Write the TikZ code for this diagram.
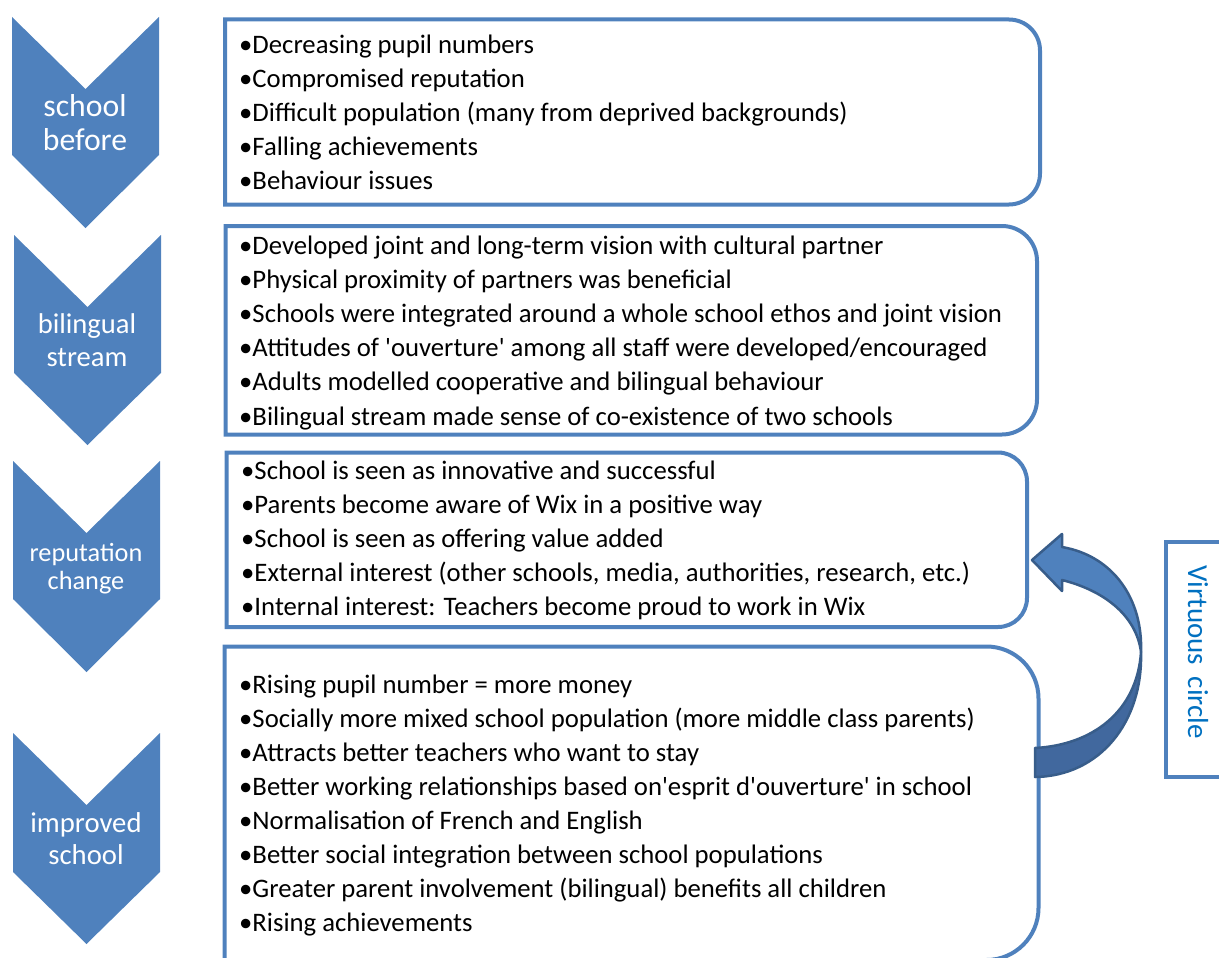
\documentclass[tikz,border=0pt]{standalone}
\usepackage{fontspec}
\setmainfont{Carlito}
\definecolor{accent}{HTML}{4F81BD}
\definecolor{arrowdark}{HTML}{41689E}
\definecolor{arrowline}{HTML}{385D8A}
\definecolor{vtext}{HTML}{0070C0}
\newcommand\rsbox[5]{%
  \draw[bframe] (#1,#2) -- ({#3-#5},#2) .. controls ({#3-0.448*#5},#2) and (#3,{#2+0.448*#5}) .. (#3,{#2+#5})
    -- (#3,{#4-#5}) .. controls (#3,{#4-0.448*#5}) and ({#3-0.448*#5},#4) .. ({#3-#5},#4) -- (#1,#4) -- cycle;}
\begin{document}
\begin{tikzpicture}[x=1pt,y=-1pt,
  chev/.style={fill=accent,draw=none},
  clabel/.style={text=white,anchor=base,inner sep=0pt},
  bframe/.style={draw=accent,line width=4pt},
  item/.style={anchor=base west,inner sep=0pt,font=\fontsize{26.7}{34}\selectfont},
]
\useasboundingbox (0,0) rectangle (1219,958);
\clip (0,0) rectangle (1219,958);

% chevrons
\foreach \xa/\xb/\ya/\yb/\yc/\yd in {12/159/17/89/155/228, 14/161/235/307/373/445, 13/160/461/533/599/672, 13/160/733/805/872/944}
  \path[chev] (\xa,\ya) -- ({(\xa+\xb)/2},\yb) -- (\xb,\ya) -- (\xb,\yc) -- ({(\xa+\xb)/2},\yd) -- (\xa,\yc) -- cycle;

\node[clabel,font=\fontsize{31.7}{34}\selectfont] (c1a) at (85,117) {school};
\node[clabel,font=\fontsize{31.7}{34}\selectfont] (c1b) at (85,150) {before};
\node[clabel,font=\fontsize{28.6}{34}\selectfont] (c2a) at (87,333) {bilingual};
\node[clabel,font=\fontsize{28.6}{34}\selectfont] (c2b) at (87,366) {stream};
\node[clabel,font=\fontsize{26.3}{30}\selectfont] (c3a) at (86,561) {reputation};
\node[clabel,font=\fontsize{26.3}{30}\selectfont] (c3b) at (86,589) {change};
\node[clabel,font=\fontsize{28.7}{34}\selectfont] (c4a) at (86,832) {improved};
\node[clabel,font=\fontsize{28.7}{34}\selectfont] (c4b) at (86,864) {school};

% boxes
\rsbox{225}{19.5}{1040}{204.5}{31}
\rsbox{225.5}{226}{1037}{434.5}{35}
\rsbox{226.5}{452.5}{1027}{627}{29}
\rsbox{224.5}{646.5}{1038.5}{960}{52}

% items
\foreach \t [count=\i] in {Decreasing pupil numbers, Compromised reputation, Difficult population (many from deprived backgrounds), Falling achievements, Behaviour issues}
  \node[item] (a\i) at (239,{54+33.8*(\i-1)}) {•\t};
\foreach \t [count=\i] in {Developed joint and long-term vision with cultural partner, Physical proximity of partners was beneficial, Schools were integrated around a whole school ethos and joint vision, Attitudes of \textquotesingle ouverture\textquotesingle\ among all staff were developed/encouraged, Adults modelled cooperative and bilingual behaviour, Bilingual stream made sense of co-existence of two schools}
  \node[item] (b\i) at (239,{254+34.2*(\i-1)}) {•\t};
\foreach \t [count=\i] in {School is seen as innovative and successful, Parents become aware of Wix in a positive way, School is seen as offering value added, {External interest (other schools, media, authorities, research, etc.)}, Internal interest: Teachers become proud to work in Wix}
  \node[item] (d\i) at (241,{479.5+34*(\i-1)}) {•\t};
\foreach \t [count=\i] in {Rising pupil number = more money, Socially more mixed school population (more middle class parents), Attracts better teachers who want to stay, Better working relationships based on\textquotesingle esprit d\textquotesingle ouverture\textquotesingle\ in school, Normalisation of French and English, Better social integration between school populations, Greater parent involvement (bilingual) benefits all children, Rising achievements}
  \node[item] (e\i) at (239,{693+34.1*(\i-1)}) {•\t};

% virtuous circle
\draw[bframe] (1165.5,541.5) rectangle (1260,777);
\node[rotate=-90,text=vtext,font=\fontsize{29}{34}\selectfont,inner sep=0pt] (vc) at (1198,652) {Virtuous\hspace{0.4em}circle};

% curved arrow
\path[fill=arrowdark,draw=arrowline,line width=2.5pt,line join=round]
  (1141,652) .. controls (1143,722) and (1100,776) .. (1035,777) -- (1035,748)
  .. controls (1092,745) and (1137,712) .. (1141,652) -- cycle;
\path[fill=accent,draw=arrowline,line width=2.5pt,line join=round]
  (1141,652) .. controls (1143,600) and (1114,556) .. (1062,547) -- (1062,534) -- (1032,560)
  -- (1062,591) -- (1062,580) .. controls (1102,590) and (1136,614) .. (1141,652) -- cycle;
\end{tikzpicture}
\end{document}
